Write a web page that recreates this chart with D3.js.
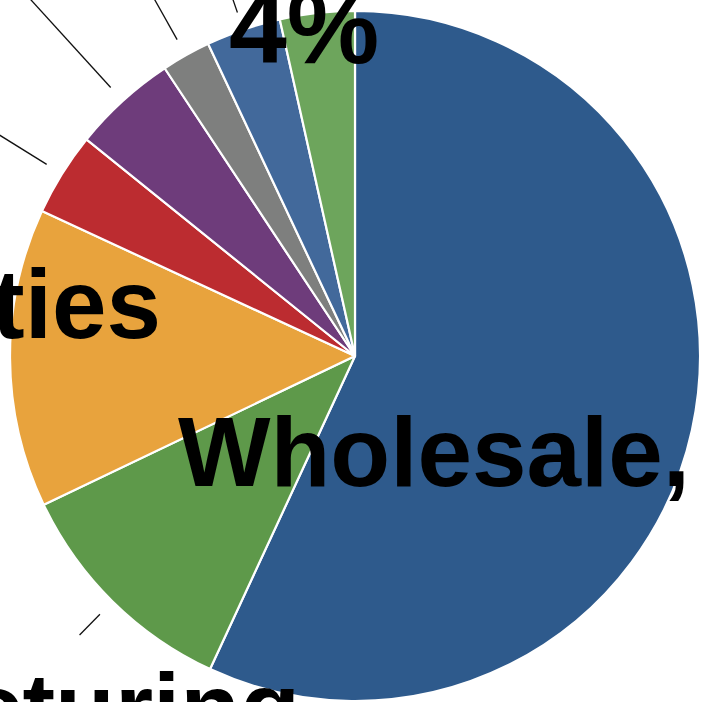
<!DOCTYPE html>
<html>
<head>
<meta charset="utf-8">
<script src="https://cdn.jsdelivr.net/npm/d3@7"></script>
<style>
  html, body { margin: 0; padding: 0; background: #fff; overflow: hidden; }
  svg { display: block; }
</style>
</head>
<body>
<svg id="chart" width="702" height="702"></svg>
<script>
// ---- data ----
const categories = ["Wholesale, retail trade", "Manufacturing", "Utilities", "Construction", "Transport", "Finance", "Information", "Other"];
const shares = [56.9, 11.0, 14.0, 3.9, 4.9, 2.3, 3.5, 3.5];
const labelTexts = ["Wholesale, retail trade 57%", "Manufacturing", "Utilities", "", "", "", "", "4%"];
const colors = ["#2E5A8C", "#5E994A", "#E8A33D", "#BC2C30", "#6E3C7B", "#7E7F7E", "#42699B", "#6DA55C"];

// ---- layout ----
const W = 702, H = 702;
const cx = 355, cy = 356, R = 345;
const svg = d3.select("#chart");
const g = svg.append("g").attr("transform", `translate(${cx},${cy})`);

const data = categories.map((c, i) => ({ cat: c, value: shares[i], label: labelTexts[i], color: colors[i] }));

const pie = d3.pie().sort(null).value(d => d.value);
const arcs = pie(data);
const arc = d3.arc().innerRadius(0).outerRadius(R);

g.selectAll("path.slice")
  .data(arcs)
  .join("path")
  .attr("class", "slice")
  .attr("d", arc)
  .attr("fill", d => d.data.color)
  .attr("stroke", "#fff")
  .attr("stroke-width", 2.2)
  .attr("stroke-linejoin", "round");

// leader lines (start just outside the pie, outward along the mid-angle)
const leaderOuter = [null, 392, null, 470, 520, 470, 440, null];
const mid = d => (d.startAngle + d.endAngle) / 2;
g.selectAll("line.leader")
  .data(arcs.filter((d, i) => leaderOuter[i] !== null))
  .join("line")
  .attr("class", "leader")
  .attr("x1", d => Math.sin(mid(d)) * (R + 18))
  .attr("y1", d => -Math.cos(mid(d)) * (R + 18))
  .attr("x2", d => Math.sin(mid(d)) * leaderOuter[d.index])
  .attr("y2", d => -Math.cos(mid(d)) * leaderOuter[d.index])
  .attr("stroke", "#111")
  .attr("stroke-width", 1.3);

// labels: position relative to pie centre
const labelPlace = [
  { dx: -177, dy: 130, anchor: "start", size: 98 },
  { dx: -55, dy: 386, anchor: "end", size: 98 },
  { dx: -194, dy: -18, anchor: "end", size: 98 },
  null, null, null, null,
  { dx: -126, dy: -293, anchor: "start", size: 104 }
];
g.selectAll("text.lbl")
  .data(arcs.filter(d => labelPlace[d.index] && d.data.label))
  .join("text")
  .attr("class", "lbl")
  .attr("x", d => labelPlace[d.index].dx)
  .attr("y", d => labelPlace[d.index].dy)
  .attr("text-anchor", d => labelPlace[d.index].anchor)
  .attr("font-family", "'Liberation Sans', Arial, Helvetica, sans-serif")
  .attr("font-weight", "bold")
  .attr("font-size", d => labelPlace[d.index].size)
  .attr("fill", "#000")
  .text(d => d.data.label);
</script>
</body>
</html>
